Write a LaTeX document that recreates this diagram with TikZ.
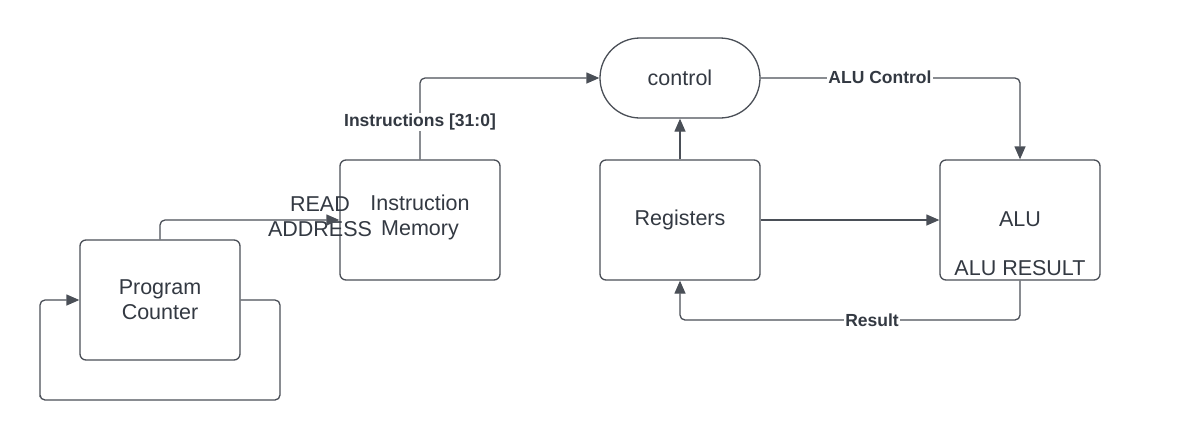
\documentclass[tikz,border=0pt]{standalone}
\usepackage{fontspec}
\setmainfont{Liberation Sans}
\usetikzlibrary{arrows.meta}
\definecolor{linec}{HTML}{4A4F57}
\definecolor{textc}{HTML}{333942}
\begin{document}
\begin{tikzpicture}[x=1pt,y=-1pt,
  box/.style={draw=linec, line width=1.3pt, rounded corners=6pt, minimum width=160pt, minimum height=120pt, inner sep=0pt, text=textc, font=\fontsize{21.5}{25}\selectfont, align=center},
  pill/.style={draw=linec, line width=1.3pt, rounded corners=40pt, minimum width=160pt, minimum height=80pt, inner sep=0pt, text=textc, font=\fontsize{21.5}{25}\selectfont},
  txt/.style={text=textc, font=\fontsize{21.5}{25}\selectfont, align=center, inner sep=0pt},
  lbl/.style={fill=white, text=textc, font=\bfseries\fontsize{17.5}{21}\selectfont, inner sep=1pt},
  conn/.style={draw=linec, line width=1.3pt, rounded corners=5pt, -{Triangle[length=13pt,width=11pt]}},
  plain/.style={draw=linec, line width=1.3pt, rounded corners=5pt}]
\useasboundingbox (0,0) rectangle (1181,440);
\fill[white] (0,0) rectangle (1181,440);
% nodes
\node[box] (pc) at (160,300) {Program\\Counter};
\node[box] (im) at (420,220) {};
\node[txt] (imt) at (420,217) {Instruction\\Memory};
\node[txt] (ra) at (320,217) {READ\\ADDRESS};
\node[pill] (ctl) at (680,78) {control};
\node[box] (reg) at (680,220) {Registers};
\node[box] (alu) at (1020,220) {};
\node[txt] (alut) at (1020,219) {ALU};
\node[txt] (alur) at (1020,268) {ALU RESULT};
% coordinates
\coordinate (c2) at (280,400);
\coordinate (c3) at (40,400);
\coordinate (c7) at (680,320);
% connectors
\draw[conn] (pc.north) |- (im.west);
\draw[conn] (pc.east) -| (c2) -| (c3) |- (pc.west);
\draw[conn] (im.north) |- (ctl.west);
\node[lbl] (l1) at (420,122) {Instructions [31:0]};
\draw[conn] (ctl.east) -| (alu.north);
\node[lbl] (l2) at (880,77) {ALU Control};
\draw[conn] (reg.north) -- (ctl.south);
\draw[conn] (reg.east) -- (alu.west);
\draw[conn] (alu.south) |- (c7) -- (reg.south);
\node[lbl] (l3) at (872,320) {Result};
\end{tikzpicture}
\end{document}
